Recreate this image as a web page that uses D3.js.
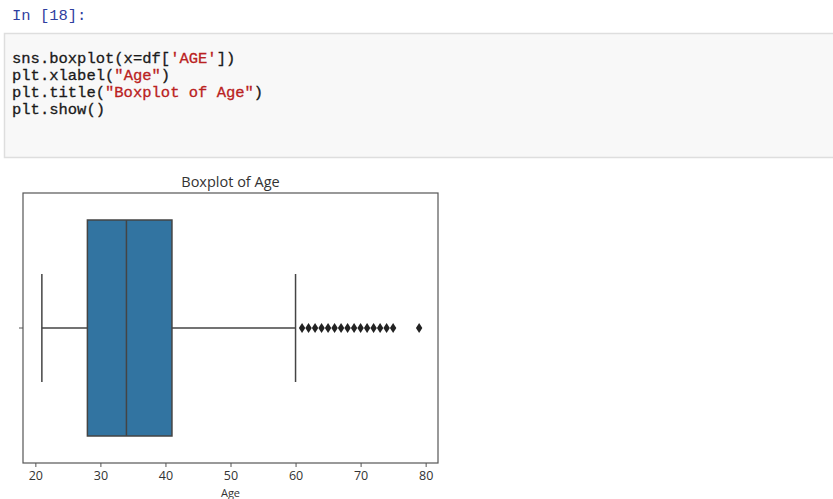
<!DOCTYPE html>
<html>
<head>
<meta charset="utf-8">
<script src="https://cdn.jsdelivr.net/npm/d3@7"></script>
<style>
  body { margin: 0; background: #fff; }
  svg { display: block; }
</style>
</head>
<body>
<div id="graphicContainer"></div>
<script>
// values
var prompt = "In [18]:";
var codeLines = [
  [["sns.boxplot(x=df[", "code"], ["'AGE'", "str"], ["])", "code"]],
  [["plt.xlabel(", "code"], ["\"Age\"", "str"], [")", "code"]],
  [["plt.title(", "code"], ["\"Boxplot of Age\"", "str"], [")", "code"]],
  [["plt.show()", "code"]]
];
var chartTitle = "Boxplot of Age";
var xLabel = "Age";
var xTicks = [20, 30, 40, 50, 60, 70, 80];
var stats = {whiskerLow: 21, q1: 28, median: 34, q3: 41, whiskerHigh: 60};
var outliers = [61, 62, 63, 64, 65, 66, 67, 68, 69, 70, 71, 72, 73, 74, 75, 79];

var target = "#graphicContainer";
var W = 833, H = 499;

var svg = d3.select(target).append("svg")
    .attr("width", W)
    .attr("height", H);

// ---- notebook cell ----
svg.append("text")
    .attr("x", 12).attr("y", 20)
    .attr("font-family", "'Liberation Mono', monospace")
    .attr("font-size", 15.5)
    .attr("fill", "#303F9F")
    .text(prompt);

svg.append("rect")
    .attr("x", 4.5).attr("y", 33.5)
    .attr("width", W).attr("height", 124)
    .attr("fill", "#f8f8f8")
    .attr("stroke", "#dedede")
    .attr("stroke-width", 1.5);

var codeColors = {code: "#1a1a1a", str: "#BA2121"};
var code = svg.append("text")
    .attr("font-family", "'Liberation Mono', monospace")
    .attr("font-size", 15.5);

codeLines.forEach(function(line, i) {
  var first = true;
  line.forEach(function(part) {
    var t = code.append("tspan")
        .attr("fill", codeColors[part[1]])
        .attr("stroke", codeColors[part[1]])
        .attr("stroke-width", 0.3)
        .text(part[0]);
    if (first) { t.attr("x", 12).attr("y", 63 + i * 17); first = false; }
  });
});

// ---- boxplot ----
var margin = {top: 193, right: W - 438, bottom: H - 463, left: 23};
var width = W - margin.left - margin.right,
    height = H - margin.top - margin.bottom;

var g = svg.append("g")
    .attr("transform", "translate(" + margin.left + "," + margin.top + ")");

var allVals = [stats.whiskerLow, stats.whiskerHigh].concat(outliers);
var lo = d3.min(allVals), hi = d3.max(allVals), pad = (hi - lo) * 0.05;

var x = d3.scaleLinear()
    .domain([lo - pad, hi + pad])
    .range([0, width]);

var y = d3.scaleLinear()
    .domain([-0.5, 0.5])
    .range([0, height]);

var lineColor = "#444";
var boxFill = "#3274a1";

// whisker lines
g.append("line")
    .attr("x1", x(stats.whiskerLow)).attr("x2", x(stats.q1))
    .attr("y1", y(0)).attr("y2", y(0))
    .attr("stroke", lineColor).attr("stroke-width", 1.5);
g.append("line")
    .attr("x1", x(stats.q3)).attr("x2", x(stats.whiskerHigh))
    .attr("y1", y(0)).attr("y2", y(0))
    .attr("stroke", lineColor).attr("stroke-width", 1.5);

// caps
[stats.whiskerLow, stats.whiskerHigh].forEach(function(v) {
  g.append("line")
      .attr("x1", x(v)).attr("x2", x(v))
      .attr("y1", y(-0.2)).attr("y2", y(0.2))
      .attr("stroke", lineColor).attr("stroke-width", 1.5);
});

// box
g.append("rect")
    .attr("x", x(stats.q1))
    .attr("y", y(-0.4))
    .attr("width", x(stats.q3) - x(stats.q1))
    .attr("height", y(0.4) - y(-0.4))
    .attr("fill", boxFill)
    .attr("stroke", lineColor)
    .attr("stroke-width", 1.5);

// median
g.append("line")
    .attr("x1", x(stats.median)).attr("x2", x(stats.median))
    .attr("y1", y(-0.4)).attr("y2", y(0.4))
    .attr("stroke", lineColor).attr("stroke-width", 1.5);

// outliers (diamonds)
g.selectAll(".flier")
    .data(outliers)
    .enter()
    .append("path")
    .attr("class", "flier")
    .attr("transform", function(d) { return "translate(" + x(d) + "," + y(0) + ")"; })
    .attr("d", "M0,-5L3.2,0L0,5L-3.2,0Z")
    .attr("fill", "#222");

// frame
g.append("rect")
    .attr("width", width).attr("height", height)
    .attr("fill", "none")
    .attr("stroke", "#555")
    .attr("stroke-width", 1.2);

// x axis
var xAxis = g.append("g")
    .attr("transform", "translate(0," + height + ")")
    .call(d3.axisBottom(x).tickValues(xTicks).tickSize(4).tickPadding(4));
xAxis.select(".domain").remove();
xAxis.selectAll("line").attr("stroke", "#555");
xAxis.selectAll("text")
    .attr("font-family", "'Open Sans', sans-serif")
    .attr("font-size", 12.5)
    .attr("fill", "#333");

// y tick with empty label
g.append("line")
    .attr("x1", -4).attr("x2", 0)
    .attr("y1", y(0)).attr("y2", y(0))
    .attr("stroke", "#555");

// title and label
svg.append("text")
    .attr("x", margin.left + width / 2)
    .attr("y", margin.top - 6)
    .attr("text-anchor", "middle")
    .attr("font-family", "'Open Sans', sans-serif")
    .attr("font-size", 14.5)
    .attr("fill", "#333")
    .text(chartTitle);

svg.append("text")
    .attr("x", margin.left + width / 2)
    .attr("y", H - 2)
    .attr("text-anchor", "middle")
    .attr("font-family", "'Open Sans', sans-serif")
    .attr("font-size", 11)
    .attr("fill", "#333")
    .text(xLabel);
</script>
</body>
</html>
